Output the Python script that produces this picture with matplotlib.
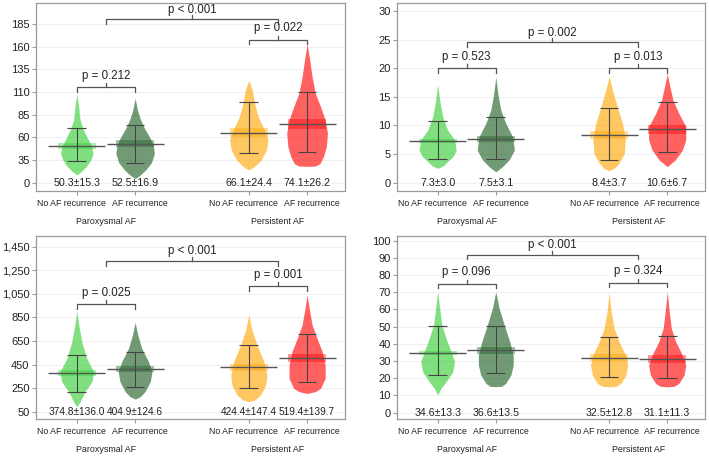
import matplotlib
matplotlib.use("Agg")
from matplotlib import pyplot as plt

plt.rcParams['font.family'] = ['Liberation Sans', 'DejaVu Sans']

# category / group labels
categories = ["No AF recurrence", "AF recurrence", "No AF recurrence", "AF recurrence"]
groups = ["Paroxysmal AF", "Persistent AF"]
colors = ['#32CD32', '#1B5E20', '#FFA500', '#FF0000']

# panel 1 (top left)
p1_yticks = [10, 35, 60, 85, 110, 135, 160, 185]
p1_yticklabels = ["0", "35", "60", "85", "110", "135", "160", "185"]
p1_means = [50.3, 52.5, 66.1, 74.1]
p1_sds = [15.3, 16.9, 24.4, 26.2]
p1_centre = [50.4, 52.8, 64.8, 74.5]
p1_ci = [3.7, 3.7, 5.0, 5.5]
p1_lo = [34, 32, 42.4, 44.2]
p1_hi = [70, 73.5, 99.3, 110.3]
p1_pvals = ["p = 0.212", "p = 0.022", "p < 0.001"]
p1_shapes = [
    [(108, 0), (94, 0.03), (79, 0.057), (68, 0.114), (57, 0.2), (49.7, 0.256),
     (42.4, 0.28), (35, 0.24), (27.6, 0.16), (22, 0.07), (18.5, 0)],
    [(103, 0), (90, 0.04), (80, 0.09), (70, 0.16), (60, 0.25), (52, 0.31),
     (42, 0.33), (32, 0.28), (24, 0.18), (18, 0.08), (14.5, 0)],
    [(123, 0), (112, 0.06), (97.5, 0.1), (83, 0.16), (68, 0.27), (57, 0.33),
     (46, 0.3), (35, 0.21), (28, 0.1), (24, 0)],
    [(163, 0), (145, 0.045), (127, 0.085), (108.6, 0.14), (93.8, 0.23), (79, 0.31),
     (64.5, 0.35), (49.7, 0.33), (38.7, 0.28), (31, 0.22), (28.3, 0.14), (28, 0)],
]

# panel 2 (top right)
p2_yticks = [0, 5, 10, 15, 20, 25, 30]
p2_yticklabels = ["0", "5", "10", "15", "20", "25", "30"]
p2_means = [7.3, 7.5, 8.4, 10.6]
p2_sds = [3.0, 3.1, 3.7, 6.7]
p2_centre = [7.3, 7.6, 8.35, 9.3]
p2_ci = [0.4, 0.55, 0.75, 0.75]
p2_lo = [4.1, 4.1, 3.9, 5.4]
p2_hi = [10.7, 11.4, 13.0, 14.1]
p2_pvals = ["p = 0.523", "p = 0.013", "p = 0.002"]
p2_shapes = [
    [(17.1, 0), (14.4, 0.035), (11.5, 0.086), (9.2, 0.17), (7.5, 0.29), (5.7, 0.32),
     (4.5, 0.26), (3.7, 0.17), (3.0, 0.1), (2.5, 0)],
    [(18.5, 0), (15.6, 0.035), (12.7, 0.086), (10.4, 0.17), (8.0, 0.29), (5.7, 0.32),
     (4.0, 0.23), (2.8, 0.115), (1.9, 0)],
    [(18.6, 0), (16.2, 0.057), (13.3, 0.14), (10.4, 0.23), (7.5, 0.28), (5.1, 0.26),
     (3.4, 0.17), (2.5, 0.086), (2.1, 0)],
    [(19, 0), (16.8, 0.046), (14.4, 0.1), (12.1, 0.2), (9.8, 0.32), (7.5, 0.32),
     (5.7, 0.26), (4.0, 0.14), (2.8, 0)],
]

# panel 3 (bottom left)
p3_yticks = [50, 250, 450, 650, 850, 1050, 1250, 1450]
p3_yticklabels = ["50", "250", "450", "650", "850", "1,050", "1,250", "1,450"]
p3_means = [374.8, 404.9, 424.4, 519.4]
p3_sds = [136.0, 124.6, 147.4, 139.7]
p3_centre = [378, 409, 426, 502]
p3_ci = [23, 26, 31, 34]
p3_lo = [214, 262, 248, 299]
p3_hi = [531, 553, 616, 709]
p3_pvals = ["p = 0.025", "p = 0.001", "p < 0.001"]
p3_shapes = [
    [(904, 0), (785, 0.034), (644, 0.086), (502, 0.17), (389, 0.29), (305, 0.26),
     (220, 0.14), (135, 0.057), (92, 0)],
    [(808, 0), (700, 0.046), (587, 0.114), (474, 0.23), (389, 0.29), (305, 0.26),
     (220, 0.17), (177, 0.086), (157, 0)],
    [(876, 0), (757, 0.046), (616, 0.14), (474, 0.26), (361, 0.31), (276, 0.29),
     (191, 0.2), (149, 0.1), (135, 0)],
    [(1040, 0), (898, 0.046), (785, 0.086), (672, 0.17), (559, 0.26), (446, 0.31),
     (333, 0.31), (248, 0.23), (220, 0.14), (205, 0)],
]

# panel 4 (bottom right)
p4_yticks = [0, 10, 20, 30, 40, 50, 60, 70, 80, 90, 100]
p4_yticklabels = [str(t) for t in p4_yticks]
p4_means = [34.6, 36.6, 32.5, 31.1]
p4_sds = [13.3, 13.5, 12.8, 11.3]
p4_centre = [34.5, 36.2, 32.0, 31.2]
p4_ci = [1.2, 2.0, 2.0, 2.1]
p4_lo = [22.1, 23.3, 20.9, 20.0]
p4_hi = [50.4, 50.4, 44.0, 44.4]
p4_pvals = ["p = 0.096", "p = 0.324", "p < 0.001"]
p4_shapes = [
    [(70.3, 0), (60.7, 0.035), (51, 0.07), (43.2, 0.145), (35.5, 0.23), (29.7, 0.29),
     (23.8, 0.26), (18, 0.145), (14.1, 0.058), (10.3, 0)],
    [(70.3, 0), (60.7, 0.058), (51, 0.145), (41.3, 0.24), (33.5, 0.3), (27.7, 0.3),
     (21.9, 0.26), (17, 0.17), (15.3, 0.1), (15.1, 0)],
    [(70.3, 0), (58.7, 0.035), (49, 0.087), (41.3, 0.17), (33.5, 0.28), (27.7, 0.32),
     (21.9, 0.29), (17, 0.2), (15.3, 0.12), (15, 0)],
    [(70.3, 0), (58.7, 0.035), (49, 0.07), (41.3, 0.145), (33.5, 0.26), (27.7, 0.32),
     (21.9, 0.29), (17, 0.2), (15.3, 0.12), (15, 0)],
]

# layout: axes rectangles in pixels (left, top, right, bottom), y limits, bracket heights
W, H = 709, 458
xpos = [1, 2, 3.95, 4.95]
label_dx = [-5, 5, -5, 5]   # pixel shift of category labels away from their ticks
panels = [
    dict(rect=(36, 3, 345, 190.5), ylim=(1.4, 208), brackets=[115, 167.4, 190], numsize=7.7,
         yticks=p1_yticks, ylabels=p1_yticklabels, means=p1_means, sds=p1_sds,
         centre=p1_centre, ci=p1_ci, lo=p1_lo, hi=p1_hi, pvals=p1_pvals, shapes=p1_shapes),
    dict(rect=(397, 3, 705, 190.5), ylim=(-1.36, 31.4), brackets=[20.0, 20.0, 24.5], numsize=7.7,
         yticks=p2_yticks, ylabels=p2_yticklabels, means=p2_means, sds=p2_sds,
         centre=p2_centre, ci=p2_ci, lo=p2_lo, hi=p2_hi, pvals=p2_pvals, shapes=p2_shapes),
    dict(rect=(36, 236, 345, 419), ylim=(-12, 1541), brackets=[963, 1116, 1328], numsize=7.3,
         yticks=p3_yticks, ylabels=p3_yticklabels, means=p3_means, sds=p3_sds,
         centre=p3_centre, ci=p3_ci, lo=p3_lo, hi=p3_hi, pvals=p3_pvals, shapes=p3_shapes),
    dict(rect=(397, 236, 705, 419), ylim=(-3.7, 102.7), brackets=[74.8, 75.6, 91.7], numsize=7.7,
         yticks=p4_yticks, ylabels=p4_yticklabels, means=p4_means, sds=p4_sds,
         centre=p4_centre, ci=p4_ci, lo=p4_lo, hi=p4_hi, pvals=p4_pvals, shapes=p4_shapes),
]

LINE = '#555555'
FRAME = '#9a9a9a'
TEXT = '#222222'
PX = 0.72  # points per pixel at dpi 100


def bracket(ax, x0, x1, y, text, u, gap=11.5):
    xm = (x0 + x1) / 2
    ax.plot([x0, x0, x1, x1], [y - 4.5 * u, y, y, y - 4.5 * u], color=LINE, lw=0.9)
    ax.plot([xm, xm], [y, y + 4 * u], color=LINE, lw=0.9)
    ax.text(xm, y + gap * u, text, ha='center', va='center', fontsize=8.3, color=TEXT)


def draw_panel(ax, p):
    l, t, r, b = p['rect']
    ax.set_xlim(0.3, 5.6)
    ax.set_ylim(*p['ylim'])
    # data units per pixel, used for bracket legs and text offsets
    u = (p['ylim'][1] - p['ylim'][0]) / (b - t)

    for yt in p['yticks']:
        ax.axhline(yt, color='#eeeeee', lw=0.6, zorder=0)

    for i, x in enumerate(xpos):
        ys = [s[0] for s in p['shapes'][i]]
        hw = [s[1] for s in p['shapes'][i]]
        ax.fill_betweenx(ys, [x - w for w in hw], [x + w for w in hw],
                         color=colors[i], alpha=0.62, lw=0, zorder=2)
        ax.bar(x, 2 * p['ci'][i], bottom=p['centre'][i] - p['ci'][i], width=0.66,
               color=colors[i], alpha=0.4, lw=0, zorder=3)
        ax.hlines(p['centre'][i], x - 0.49, x + 0.49, color=LINE, lw=1, zorder=4)
        ax.vlines(x, p['lo'][i], p['hi'][i], color='#444444', lw=0.8, zorder=4)
        ax.hlines([p['lo'][i], p['hi'][i]], x - 0.16, x + 0.16, color='#444444', lw=0.8, zorder=4)
        ax.text(x, p['yticks'][0], "%.1f±%.1f" % (p['means'][i], p['sds'][i]),
                ha='center', va='center', fontsize=p['numsize'], color=TEXT, zorder=5)
        # category label under the tick
        ax.annotate(categories[i], xy=(x, 0), xycoords=('data', 'axes fraction'),
                    xytext=(label_dx[i] * PX, -12.8 * PX), textcoords='offset points',
                    ha='center', va='center', fontsize=6.3, color=TEXT)

    g1 = (xpos[0] + xpos[1]) / 2
    g2 = (xpos[2] + xpos[3]) / 2
    bracket(ax, xpos[0], xpos[1], p['brackets'][0], p['pvals'][0], u)
    bracket(ax, xpos[2], xpos[3], p['brackets'][1], p['pvals'][1], u)
    bracket(ax, g1, g2, p['brackets'][2], p['pvals'][2], u, gap=9.8)

    ax.set_yticks(p['yticks'])
    ax.set_yticklabels(p['ylabels'], fontsize=8, color=TEXT)
    ax.set_xticks(xpos)
    ax.set_xticklabels([])
    ax.tick_params(axis='both', length=2.6, width=0.8, color=FRAME, pad=2)
    for sp in ax.spines.values():
        sp.set_color(FRAME)
        sp.set_linewidth(0.9)
    for gx, name in zip([g1, g2], groups):
        ax.annotate(name, xy=(gx, 0), xycoords=('data', 'axes fraction'),
                    xytext=(0, -30.5 * PX), textcoords='offset points',
                    ha='center', va='center', fontsize=6.4, color=TEXT)


fig = plt.figure(figsize=(W / 100, H / 100), dpi=100)
for p in panels:
    l, t, r, b = p['rect']
    ax = fig.add_axes([l / W, 1 - b / H, (r - l) / W, (b - t) / H])
    draw_panel(ax, p)

fig.savefig("out.png", dpi=100)
